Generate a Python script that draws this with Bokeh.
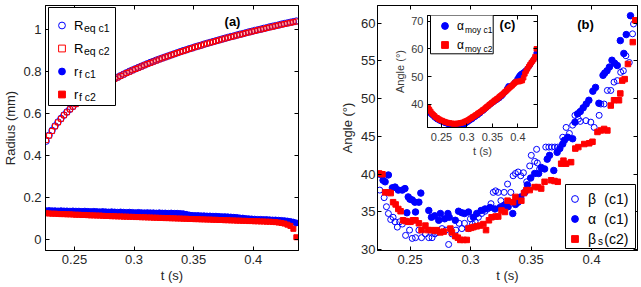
from bokeh.plotting import figure
from bokeh.models import (Range1d, FixedTicker, LinearAxis, Legend, LegendItem,
                          Label, GridBox, BoxAnnotation)
from bokeh.embed import file_html
from bokeh.resources import INLINE

# ---------------------------------------------------------------- data
# frame times (s) for the radius curves
t_frames = [0.2262, 0.2287, 0.2312, 0.2337, 0.2362, 0.2387, 0.2412, 0.2437, 0.2462, 0.2487,
            0.2512, 0.2537, 0.2562, 0.2587, 0.2612, 0.2637, 0.2662, 0.2687, 0.2712, 0.2737,
            0.2762, 0.2787, 0.2812, 0.2837, 0.2862, 0.2887, 0.2912, 0.2937, 0.2962, 0.2987,
            0.3012, 0.3037, 0.3062, 0.3087, 0.3112, 0.3137, 0.3162, 0.3187, 0.3212, 0.3237,
            0.3262, 0.3287, 0.3312, 0.3337, 0.3362, 0.3387, 0.3412, 0.3437, 0.3462, 0.3487,
            0.3512, 0.3537, 0.3562, 0.3587, 0.3612, 0.3637, 0.3662, 0.3687, 0.3712, 0.3737,
            0.3762, 0.3787, 0.3812, 0.3837, 0.3862, 0.3887, 0.3912, 0.3937, 0.3962, 0.3987,
            0.4012, 0.4037, 0.4062, 0.4087, 0.4112, 0.4137, 0.4162, 0.4187, 0.4212, 0.4237,
            0.4262, 0.4287, 0.4312, 0.4337, 0.4362]

R_eq_c1 = [0.469, 0.497, 0.520, 0.541, 0.560, 0.577, 0.593, 0.608, 0.621, 0.634,
           0.647, 0.658, 0.669, 0.680, 0.690, 0.700, 0.709, 0.718, 0.727, 0.735,
           0.743, 0.751, 0.759, 0.766, 0.773, 0.780, 0.787, 0.794, 0.801, 0.807,
           0.813, 0.819, 0.825, 0.831, 0.837, 0.843, 0.848, 0.854, 0.859, 0.864,
           0.869, 0.874, 0.879, 0.884, 0.889, 0.894, 0.899, 0.903, 0.908, 0.912,
           0.917, 0.921, 0.925, 0.930, 0.934, 0.938, 0.942, 0.946, 0.950, 0.954,
           0.958, 0.962, 0.966, 0.969, 0.973, 0.977, 0.980, 0.984, 0.988, 0.991,
           0.995, 0.998, 1.001, 1.005, 1.008, 1.012, 1.015, 1.018, 1.021, 1.025,
           1.028, 1.031, 1.034, 1.037, 1.040]

R_eq_c2 = [0.474, 0.495, 0.517, 0.539, 0.558, 0.575, 0.592, 0.606, 0.620, 0.633,
           0.645, 0.657, 0.668, 0.679, 0.689, 0.698, 0.708, 0.717, 0.725, 0.734,
           0.742, 0.750, 0.757, 0.765, 0.772, 0.779, 0.786, 0.793, 0.799, 0.806,
           0.812, 0.818, 0.824, 0.830, 0.836, 0.841, 0.847, 0.852, 0.858, 0.863,
           0.868, 0.873, 0.878, 0.883, 0.888, 0.893, 0.897, 0.902, 0.907, 0.911,
           0.916, 0.920, 0.924, 0.929, 0.933, 0.937, 0.941, 0.945, 0.949, 0.953,
           0.957, 0.961, 0.964, 0.968, 0.972, 0.975, 0.979, 0.983, 0.986, 0.990,
           0.993, 0.997, 1.000, 1.003, 1.007, 1.010, 1.013, 1.017, 1.020, 1.023,
           1.026, 1.029, 1.032, 1.035, 1.038]

r_f_c1 = [0.138, 0.139, 0.138, 0.138, 0.137, 0.138, 0.137, 0.137, 0.136, 0.137,
          0.136, 0.136, 0.135, 0.136, 0.135, 0.134, 0.135, 0.134, 0.133, 0.134,
          0.133, 0.132, 0.133, 0.132, 0.131, 0.132, 0.131, 0.130, 0.131, 0.130,
          0.129, 0.130, 0.129, 0.128, 0.129, 0.128, 0.128, 0.127, 0.128, 0.127,
          0.127, 0.126, 0.127, 0.126, 0.126, 0.125, 0.124, 0.121, 0.118, 0.116,
          0.115, 0.115, 0.114, 0.114, 0.113, 0.113, 0.112, 0.112, 0.111, 0.110,
          0.110, 0.109, 0.108, 0.107, 0.106, 0.104, 0.103, 0.101, 0.100, 0.099,
          0.098, 0.097, 0.097, 0.096, 0.096, 0.095, 0.094, 0.094, 0.093, 0.092,
          0.091, 0.089, 0.087, 0.084, 0.080]

r_f_c2 = [0.126, 0.125, 0.124, 0.124, 0.123, 0.122, 0.122, 0.121, 0.121, 0.120,
          0.119, 0.119, 0.118, 0.118, 0.117, 0.116, 0.116, 0.115, 0.115, 0.114,
          0.113, 0.113, 0.112, 0.112, 0.111, 0.111, 0.110, 0.110, 0.109, 0.109,
          0.108, 0.108, 0.107, 0.107, 0.106, 0.106, 0.105, 0.105, 0.104, 0.104,
          0.103, 0.103, 0.102, 0.102, 0.101, 0.101, 0.100, 0.100, 0.099, 0.099,
          0.098, 0.098, 0.097, 0.097, 0.096, 0.096, 0.095, 0.095, 0.094, 0.094,
          0.093, 0.093, 0.092, 0.092, 0.091, 0.091, 0.090, 0.090, 0.089, 0.089,
          0.088, 0.088, 0.087, 0.087, 0.086, 0.086, 0.085, 0.084, 0.082, 0.080,
          0.077, 0.072, 0.066, 0.052, 0.012]

# contact angles (deg), panel (b)
beta_c1_t = [0.2249, 0.2285, 0.2304, 0.2320, 0.2339, 0.2359, 0.2375, 0.2394, 0.2413, 0.2435,
             0.2462, 0.2495, 0.2517, 0.2544, 0.2572, 0.2594, 0.2626, 0.2654, 0.2681, 0.2703,
             0.2722, 0.2763, 0.2796, 0.2818, 0.2845, 0.2878, 0.2905, 0.2927, 0.2949, 0.2982,
             0.2998, 0.3015, 0.3037, 0.3064, 0.3091, 0.3119, 0.3140, 0.3168, 0.3187, 0.3206,
             0.3228, 0.3250, 0.3277, 0.3305, 0.3332, 0.3351, 0.3370, 0.3392, 0.3414, 0.3436,
             0.3463, 0.3488, 0.3501, 0.3529, 0.3545, 0.3551, 0.3570, 0.3621, 0.3646, 0.3671,
             0.3696, 0.3721, 0.3761, 0.3789, 0.3816, 0.3843, 0.3862, 0.3890, 0.3906, 0.3953,
             0.3993, 0.4021, 0.4062, 0.4076, 0.4103, 0.4130, 0.4158, 0.4185, 0.4212, 0.4240,
             0.4262, 0.4283, 0.4311, 0.4338, 0.4346]
beta_c1 = [37.9, 36.9, 35.7, 34.8, 34.0, 34.3, 33.7, 33.0, 33.7, 33.4,
           31.9, 32.6, 31.5, 31.6, 32.6, 31.6, 32.1, 31.6, 31.6, 32.1,
           32.3, 32.8, 32.6, 30.7, 32.1, 32.6, 33.5, 32.8, 33.5, 32.8,
           34.1, 33.4, 33.7, 34.3, 34.8, 35.1, 35.4, 36.1, 37.6, 37.8,
           37.6, 36.5, 37.6, 38.7, 37.6, 39.8, 40.1, 40.3, 39.8, 40.2,
           39.0, 41.1, 42.5, 41.7, 43.3, 41.5, 40.7, 43.6, 43.6, 43.6,
           43.6, 43.6, 44.9, 46.2, 45.4, 46.5, 47.8, 47.3, 47.0, 47.1,
           46.9, 46.2, 47.8, 49.3, 49.3, 51.1, 51.1, 52.2, 52.4, 53.5,
           53.7, 55.7, 54.8, 58.6, 59.9]

alpha_c1_t = [0.2249, 0.2276, 0.2293, 0.2320, 0.2353, 0.2375, 0.2402, 0.2435, 0.2457, 0.2473,
              0.2484, 0.2498, 0.2517, 0.2539, 0.2544, 0.2572, 0.2588, 0.2654, 0.2676, 0.2703,
              0.2736, 0.2750, 0.2785, 0.2812, 0.2823, 0.2873, 0.2900, 0.2927, 0.2949, 0.2982,
              0.3023, 0.3050, 0.3086, 0.3119, 0.3160, 0.3201, 0.3242, 0.3277, 0.3310, 0.3348,
              0.3370, 0.3392, 0.3414, 0.3447, 0.3469, 0.3496, 0.3529, 0.3562, 0.3583, 0.3611,
              0.3633, 0.3652, 0.3687, 0.3715, 0.3737, 0.3761, 0.3775, 0.3802, 0.3843, 0.3862,
              0.3884, 0.3906, 0.3930, 0.3955, 0.3977, 0.4010, 0.4032, 0.4060, 0.4094, 0.4108,
              0.4127, 0.4147, 0.4168, 0.4190, 0.4212, 0.4237, 0.4266, 0.4286, 0.4321]
alpha_c1 = [40.0, 39.2, 39.0, 39.9, 38.2, 38.3, 37.9, 37.9, 38.1, 34.9,
            37.0, 36.7, 36.6, 36.3, 35.0, 36.3, 37.5, 35.2, 34.3, 34.5,
            33.9, 34.8, 34.1, 34.8, 34.3, 33.9, 35.1, 34.9, 34.8, 35.0,
            34.3, 34.8, 35.2, 35.4, 35.6, 35.4, 35.6, 35.9, 35.7, 34.8,
            36.0, 36.3, 37.0, 37.6, 38.6, 39.5, 40.1, 40.1, 40.9, 40.7,
            42.0, 42.5, 40.5, 42.9, 43.4, 44.0, 44.5, 44.9, 44.7, 46.9,
            48.0, 48.3, 48.8, 49.3, 49.8, 51.0, 51.5, 49.4, 53.1, 53.4,
            53.7, 54.2, 55.1, 54.7, 54.4, 57.7, 56.0, 58.5, 61.0]

beta_s_c2_t = [0.2244, 0.2271, 0.2293, 0.2320, 0.2339, 0.2359, 0.2380, 0.2402, 0.2421, 0.2441,
               0.2462, 0.2484, 0.2503, 0.2523, 0.2544, 0.2572, 0.2594, 0.2626, 0.2648, 0.2676,
               0.2703, 0.2722, 0.2750, 0.2777, 0.2832, 0.2845, 0.2873, 0.2894, 0.2914, 0.2941,
               0.2968, 0.2982, 0.3004, 0.3023, 0.3050, 0.3078, 0.3105, 0.3127, 0.3151, 0.3173,
               0.3206, 0.3228, 0.3255, 0.3283, 0.3305, 0.3351, 0.3370, 0.3419, 0.3441, 0.3460,
               0.3488, 0.3529, 0.3556, 0.3583, 0.3611, 0.3665, 0.3693, 0.3720, 0.3748, 0.3767,
               0.3789, 0.3830, 0.3865, 0.3890, 0.3939, 0.3980, 0.4007, 0.4048, 0.4076, 0.4103,
               0.4130, 0.4158, 0.4185, 0.4226, 0.4237, 0.4253, 0.4273, 0.4300, 0.4340, 0.4360]
beta_s_c2 = [40.1, 40.0, 37.6, 37.6, 37.5, 36.3, 36.0, 35.4, 35.1, 33.9,
             33.8, 33.7, 33.7, 33.9, 33.9, 33.5, 32.6, 33.2, 32.6, 32.6,
             32.5, 32.6, 32.3, 32.4, 32.8, 32.3, 31.8, 31.6, 31.3, 31.3,
             31.3, 32.8, 32.9, 33.0, 33.1, 33.2, 33.4, 32.6, 33.9, 34.3,
             34.4, 34.4, 35.2, 35.0, 36.5, 36.3, 37.0, 36.5, 37.5, 37.9,
             37.9, 38.3, 38.3, 38.1, 39.0, 39.2, 39.1, 39.0, 41.4, 41.8,
             41.4, 41.6, 43.4, 43.6, 44.0, 44.1, 44.3, 45.6, 45.8, 46.0,
             45.8, 49.1, 49.8, 49.8, 50.7, 52.4, 52.6, 54.6, 57.5, 60.4]

# mean angle, inset (c)
t_moy = [0.2237] + t_frames
alpha_moy_c1 = [37.6, 37.2, 36.6, 36.2, 35.8, 35.3, 35.0, 34.6, 34.5, 34.1,
                34.0, 33.7, 33.6, 33.3, 33.3, 33.0, 32.9, 32.8, 32.9, 32.7,
                32.6, 32.8, 32.5, 32.6, 32.4, 32.3, 32.2, 32.4, 32.6, 33.0,
                33.3, 33.6, 34.0, 34.2, 34.6, 34.8, 35.3, 35.5, 35.9, 36.1,
                36.6, 36.8, 37.4, 37.6, 38.0, 38.5, 38.8, 39.3, 39.6, 40.1,
                40.3, 40.8, 41.0, 41.4, 41.6, 42.0, 42.2, 42.7, 43.0, 43.6,
                44.1, 44.6, 45.8, 46.6, 46.4, 46.6, 46.9, 47.4, 48.0, 48.3,
                49.2, 50.0, 50.6, 51.0, 51.3, 51.6, 52.0, 52.4, 52.9, 53.5,
                54.1, 54.9, 55.6, 56.3, 57.0, 58.5]
alpha_moy_c2 = [38.9, 38.2, 37.5, 36.8, 36.3, 35.9, 35.4, 35.2, 34.8, 34.6,
                34.3, 34.2, 33.9, 33.8, 33.6, 33.5, 33.3, 33.3, 33.1, 33.2,
                33.0, 33.1, 33.0, 33.2, 33.1, 33.3, 33.3, 33.5, 33.6, 33.9,
                34.0, 34.3, 34.5, 34.9, 35.1, 35.5, 35.7, 36.1, 36.3, 36.7,
                37.0, 37.3, 37.6, 38.0, 38.3, 38.7, 39.1, 39.4, 39.9, 40.2,
                40.6, 40.9, 41.4, 41.6, 42.0, 42.3, 42.8, 43.1, 43.5, 43.9,
                44.4, 44.7, 45.2, 45.6, 46.0, 46.4, 46.8, 47.3, 47.7, 48.1,
                48.3, 48.2, 48.3, 48.5, 48.6, 49.6, 51.0, 52.0, 52.8, 53.6,
                54.3, 55.0, 55.6, 56.2, 57.2, 60.0]

t_ticks = [0.25, 0.3, 0.35, 0.4]
t_labels = {0.25: "0.25", 0.3: "0.3", 0.35: "0.35", 0.4: "0.4"}
radius_ticks = [0, 0.2, 0.4, 0.6, 0.8, 1]
radius_labels = {0: "0", 0.2: "0.2", 0.4: "0.4", 0.6: "0.6", 0.8: "0.8", 1: "1"}
angle_ticks = [30, 35, 40, 45, 50, 55, 60]
inset_angle_ticks = [40, 50, 60, 70]

# ---------------------------------------------------------------- style
FONT = "Liberation Sans"
INK = "#262626"
BLUE = "#0000ff"
RED = "#ff0000"
GAP = "\u2002\u200a"  # en + hair space between symbol and case tag in legends


def boxed_axes(p, xticks, yticks, xlabels, ylabels, fs, xlabel, ylabel,
               x_stand, y_stand, xl_stand, yl_stand, color=INK):
    p.xgrid.visible = False
    p.ygrid.visible = False
    p.outline_line_color = "black"
    p.outline_line_width = 1
    p.outline_line_alpha = 1
    p.xaxis.ticker = FixedTicker(ticks=xticks)
    p.yaxis.ticker = FixedTicker(ticks=yticks)
    if xlabels:
        p.xaxis.major_label_overrides = xlabels
    if ylabels:
        p.yaxis.major_label_overrides = ylabels
    p.xaxis.axis_label = xlabel
    p.yaxis.axis_label = ylabel
    p.xaxis.major_label_standoff = x_stand
    p.yaxis.major_label_standoff = y_stand
    p.xaxis.axis_label_standoff = xl_stand
    p.yaxis.axis_label_standoff = yl_stand
    for ax in (p.xaxis[0], p.yaxis[0]):
        ax.major_label_text_font = FONT
        ax.major_label_text_font_size = fs
        ax.major_label_text_color = color
        ax.axis_label_text_font = FONT
        ax.axis_label_text_font_size = fs
        ax.axis_label_text_font_style = "normal"
        ax.axis_label_text_color = color
    # mirrored tick marks on the top and right edges, without labels
    top = LinearAxis(ticker=FixedTicker(ticks=xticks),
                     major_label_overrides={v: "" for v in xticks})
    right = LinearAxis(ticker=FixedTicker(ticks=yticks),
                       major_label_overrides={v: "" for v in yticks})
    for ax in (top, right):
        ax.major_label_standoff = 0
        ax.major_label_text_font_size = "1px"
    p.add_layout(top, "above")
    p.add_layout(right, "right")
    for ax in p.axis:
        ax.axis_line_color = "black"
        ax.axis_line_width = 1
        ax.major_tick_line_color = "black"
        ax.major_tick_in = 4
        ax.major_tick_out = 0
        ax.minor_tick_line_color = None


def legend_box(p, left, top, width, height, frame_h):
    # white backing for a legend, in pixels from the frame's top-left corner
    p.add_layout(BoxAnnotation(left=left, right=left + width,
                               top=frame_h - top, bottom=frame_h - top - height,
                               left_units="screen", right_units="screen",
                               top_units="screen", bottom_units="screen",
                               fill_color="white", fill_alpha=1,
                               line_color="black", line_width=1, line_alpha=1))


def sub_label(p, x, y_top, text, size, frame_h):
    p.add_layout(Label(x=x, y=frame_h - y_top, x_units="screen", y_units="screen",
                       text=text, text_font=FONT, text_font_size=size,
                       text_color="black", text_baseline="middle",
                       text_align="left", level="overlay"))


def make_legend(items, loc, pad, gw, gh, lw, st, sp, fs):
    return Legend(items=items, location=loc, padding=pad, spacing=sp, margin=0,
                  glyph_width=gw, glyph_height=gh, label_height=gh,
                  label_width=lw, label_standoff=st, label_text_font=FONT,
                  label_text_font_size=fs, label_text_color="black",
                  border_line_color=None, background_fill_alpha=0)


# ---------------------------------------------------------------- (a) radius
FH = 245
p1 = figure(width=320, height=287, output_backend="svg", toolbar_location=None,
            x_range=Range1d(0.22569, 0.43801), y_range=Range1d(-0.051, 1.114),
            min_border_left=36, min_border_right=22, min_border_top=5,
            min_border_bottom=37, background_fill_color="white",
            border_fill_color="white")
boxed_axes(p1, t_ticks, radius_ticks, t_labels, radius_labels, "13px",
           "t (s)", "Radius (mm)", 4, 4, 1, 2)

ra = p1.scatter(t_frames, R_eq_c1, marker="circle", size=6.5, fill_color=None,
                line_color=BLUE, line_width=1)
rb = p1.scatter(t_frames, R_eq_c2, marker="square", size=5, fill_color=None,
                line_color=RED, line_width=1)
rc = p1.scatter(t_frames, r_f_c1, marker="circle", size=6, fill_color=BLUE,
                line_color=BLUE)
rd = p1.scatter(t_frames, r_f_c2, marker="square", size=5, fill_color=RED,
                line_color=RED)

legend_box(p1, 3, 2, 67, 98, FH)
p1.add_layout(make_legend([LegendItem(label="R", renderers=[ra]),
                           LegendItem(label="R", renderers=[rb]),
                           LegendItem(label="r", renderers=[rc]),
                           LegendItem(label="r", renderers=[rd])],
                          (8, 147), 5, 17, 18, 32, 4, 5, "13px"))
for i, (dx, txt) in enumerate([(38.5, "eq c1"), (38.5, "eq c2"),
                               (33.5, "f c1"), (33.5, "f c2")]):
    sub_label(p1, dx, 16 + 23 * i + 6.5, txt, "10.5px", FH)

p1.add_layout(Label(x=187, y=FH - 15.7, x_units="screen", y_units="screen",
                    text="(a)", text_font=FONT, text_font_size="13px",
                    text_font_style="bold", text_color="black",
                    text_align="center", text_baseline="middle"))

# ---------------------------------------------------------------- (b) angles
p2 = figure(width=321, height=287, output_backend="svg", toolbar_location=None,
            x_range=Range1d(0.2230, 0.4379), y_range=Range1d(29.9, 62.35),
            min_border_left=57, min_border_right=2, min_border_top=5,
            min_border_bottom=37, background_fill_color="white",
            border_fill_color="white")
boxed_axes(p2, t_ticks, angle_ticks, t_labels, None, "13px",
           "t (s)", "Angle (°)", 4, 2, 1, 3)

b1 = p2.scatter(beta_c1_t, beta_c1, marker="circle", size=6, fill_color=None,
                line_color=BLUE, line_width=1)
b2 = p2.scatter(alpha_c1_t, alpha_c1, marker="circle", size=6.5,
                fill_color=BLUE, line_color=BLUE)
b3 = p2.scatter(beta_s_c2_t, beta_s_c2, marker="square", size=5.5,
                fill_color=RED, line_color=RED)

legend_box(p2, 188, 179, 70, 64, FH)
p2.add_layout(make_legend([LegendItem(label="β" + GAP + "(c1)", renderers=[b1]),
                           LegendItem(label="α" + GAP + "(c1)", renderers=[b2]),
                           LegendItem(label="β" + GAP + "(c2)", renderers=[b3])],
                          (189, 3), 3, 17, 17, 40, 5, 3, "14px"))
sub_label(p2, 220.5, 230.5 + 5.5, "s", "10px", FH)

p2.add_layout(Label(x=208, y=FH - 19, x_units="screen", y_units="screen",
                    text="(b)", text_font=FONT, text_font_size="13px",
                    text_font_style="bold", text_color="black",
                    text_align="center", text_baseline="middle"))

# ---------------------------------------------------------------- (c) inset
IH = 116
p3 = figure(width=40 + 127 + 4, height=4 + IH + 34, output_backend="svg",
            toolbar_location=None,
            x_range=Range1d(0.2225, 0.4385), y_range=Range1d(31.7, 72.0),
            min_border_left=40, min_border_right=4, min_border_top=4,
            min_border_bottom=34, background_fill_color="white",
            border_fill_color=None, margin=(10, 0, 0, 50))
boxed_axes(p3, t_ticks, inset_angle_ticks, t_labels, None, "11px",
           "t (s)", "Angle (°)", 5, 4, 1, 2, color="#3a3a3a")

c1 = p3.scatter(t_moy, alpha_moy_c1, marker="circle", size=5,
                fill_color=BLUE, line_color=BLUE)
c2 = p3.scatter(t_moy, alpha_moy_c2, marker="square", size=4.5,
                fill_color=RED, line_color=RED)

legend_box(p3, 3, 2.3, 62.7, 40, IH)
p3.add_layout(make_legend([LegendItem(label="α", renderers=[c1]),
                           LegendItem(label="α", renderers=[c2])],
                          (5, 73.7), 2, 25, 17, 32, 0, 2, "12px"))
for i, txt in enumerate(["moy c1", "moy c2"]):
    sub_label(p3, 37.5, 2.3 + 10.5 + 19 * i + 5.5, txt, "8.5px", IH)

p3.add_layout(Label(x=80, y=IH - 13, x_units="screen", y_units="screen",
                    text="(c)", text_font=FONT, text_font_size="13px",
                    text_font_style="bold", text_color="black",
                    text_align="center", text_baseline="middle"))

# ---------------------------------------------------------------- page
layout = GridBox(children=[(p1, 0, 0), (p2, 0, 1), (p3, 0, 1)], spacing=0)

open("out.html", "w").write(file_html(layout, INLINE))
